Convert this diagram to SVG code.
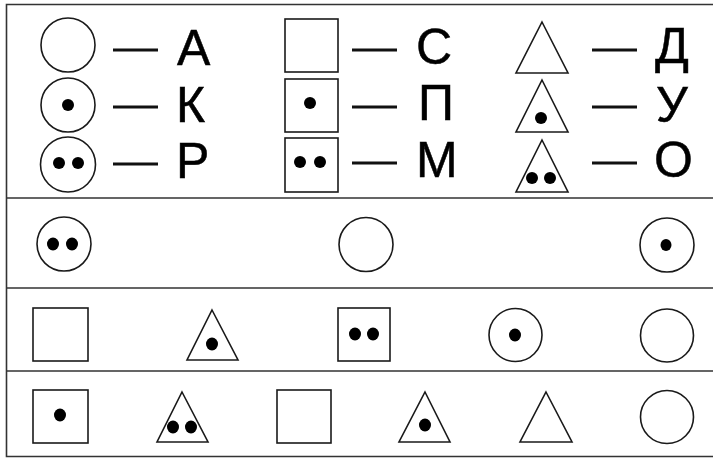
<svg xmlns="http://www.w3.org/2000/svg" width="713" height="459" viewBox="0 0 713 459">
<defs>
<style>
.s{fill:none;stroke:#1a1a1a;stroke-width:1.6}
.d{fill:#000}
.dash{stroke:#111;stroke-width:3.2}
.frame{fill:none;stroke:#333;stroke-width:1.6}
.t{font-family:"Liberation Sans",Arial,sans-serif;font-size:50px;fill:#000;stroke:#000;stroke-width:0.5}
</style>
</defs>
<rect width="713" height="459" fill="#fff"/>
<g id="frame">
<path class="frame" d="M713,4.5 H6.5 V456.5 H713 M6.5,198 H713 M6.5,288 H713 M6.5,371 H713"/>
</g>
<g id="connectors">
<line class="dash" x1="113" y1="50" x2="158" y2="50"/>
<line class="dash" x1="113" y1="107" x2="158" y2="107"/>
<line class="dash" x1="113" y1="164" x2="158" y2="164"/>
<line class="dash" x1="352" y1="50" x2="397" y2="50"/>
<line class="dash" x1="352" y1="107" x2="397" y2="107"/>
<line class="dash" x1="352" y1="163" x2="397" y2="163"/>
<line class="dash" x1="592" y1="50" x2="637" y2="50"/>
<line class="dash" x1="592" y1="107" x2="637" y2="107"/>
<line class="dash" x1="592" y1="163" x2="637" y2="163"/>
</g>
<g id="legend-A"><circle class="s" cx="68" cy="45" r="27"/><text class="t" x="177" y="65">А</text></g>
<g id="legend-K"><circle class="s" cx="68" cy="105" r="27"/><circle class="d" cx="68" cy="105" r="6"/><text class="t" x="176" y="122">К</text></g>
<g id="legend-R"><circle class="s" cx="68" cy="164.5" r="27.5"/><circle class="d" cx="59" cy="163" r="6"/><circle class="d" cx="78" cy="163" r="6"/><text class="t" x="176" y="178">Р</text></g>
<g id="legend-S"><rect class="s" x="285" y="19" width="53" height="53"/><text class="t" x="416" y="64">С</text></g>
<g id="legend-P"><rect class="s" x="285" y="79" width="53" height="53"/><circle class="d" cx="310" cy="103" r="6"/><text class="t" x="418" y="120">П</text></g>
<g id="legend-M"><rect class="s" x="285" y="138" width="53" height="54"/><circle class="d" cx="300" cy="162" r="6"/><circle class="d" cx="320" cy="162" r="6"/><text class="t" x="416" y="177">М</text></g>
<g id="legend-D"><polygon class="s" points="542,22 568,73 516,73"/><text class="t" x="655" y="63">Д</text></g>
<g id="legend-U"><polygon class="s" points="542,80 568,132 516,132"/><circle class="d" cx="541" cy="118" r="6"/><text class="t" x="656" y="122">У</text></g>
<g id="legend-O"><polygon class="s" points="542,140 568,192 516,192"/><circle class="d" cx="532" cy="178" r="6"/><circle class="d" cx="550" cy="178" r="6"/><text class="t" x="654" y="177">О</text></g>

<g id="r2-1"><circle class="s" cx="64" cy="244" r="27"/><ellipse class="d" cx="53" cy="244" rx="6" ry="6.5"/><ellipse class="d" cx="72" cy="244" rx="6" ry="6.5"/></g>
<g id="r2-2"><circle class="s" cx="366" cy="244.5" r="27"/></g>
<g id="r2-3"><circle class="s" cx="667" cy="245" r="27"/><ellipse class="d" cx="666" cy="245" rx="5.5" ry="6"/></g>

<g id="r3-1"><rect class="s" x="33" y="308" width="55" height="53"/></g>
<g id="r3-2"><polygon class="s" points="212,310 238,360 187,360"/><ellipse class="d" cx="212" cy="344" rx="6" ry="6.5"/></g>
<g id="r3-3"><rect class="s" x="338" y="308" width="52" height="53"/><ellipse class="d" cx="355" cy="334" rx="6" ry="6.5"/><ellipse class="d" cx="373" cy="334" rx="6" ry="6.5"/></g>
<g id="r3-4"><circle class="s" cx="515.5" cy="335" r="26.5"/><ellipse class="d" cx="515" cy="335" rx="6" ry="6.5"/></g>
<g id="r3-5"><circle class="s" cx="667" cy="335.5" r="26.5"/></g>

<g id="r4-1"><rect class="s" x="33" y="390" width="55" height="53"/><ellipse class="d" cx="60" cy="415" rx="6" ry="6.5"/></g>
<g id="r4-2"><polygon class="s" points="182,392 208,442 157,442"/><ellipse class="d" cx="173" cy="427" rx="6" ry="6.5"/><ellipse class="d" cx="191" cy="427" rx="6" ry="6.5"/></g>
<g id="r4-3"><rect class="s" x="277" y="390" width="54" height="53"/></g>
<g id="r4-4"><polygon class="s" points="425,392 450,442 399,442"/><ellipse class="d" cx="425" cy="425" rx="6" ry="6.5"/></g>
<g id="r4-5"><polygon class="s" points="546,392 572,442 520,442"/></g>
<g id="r4-6"><circle class="s" cx="667" cy="417" r="26.5"/></g>
</svg>
